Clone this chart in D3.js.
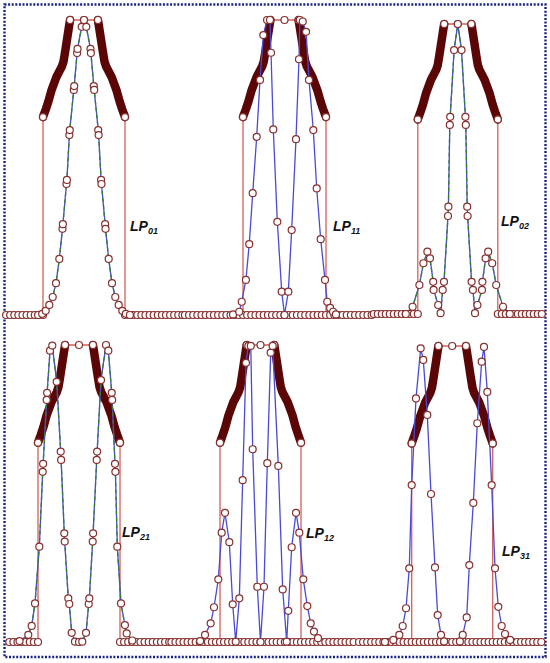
<!DOCTYPE html>
<html><head><meta charset="utf-8">
<script src="https://cdn.jsdelivr.net/npm/d3@7"></script>
<style>html,body{margin:0;padding:0;background:#fff;} svg{display:block;}</style>
</head><body>
<svg id="c" width="550" height="663"></svg>
<script>
// ---------------- data ----------------
const modeNames = ["LP01","LP11","LP02","LP21","LP12","LP31"];
const modeSubs  = ["01","11","02","21","12","31"];

// refractive-index profile of the core (normalized radius r, normalized index n)
const coreR = [-1.0,-0.93,-0.87,-0.79,-0.67,-0.54,-0.50,-0.46,-0.41,-0.36,-0.34,0,0.34,0.36,0.41,0.46,0.50,0.54,0.67,0.79,0.87,0.93,1.0];
const coreN = [0.671,0.698,0.723,0.763,0.808,0.842,0.859,0.893,0.938,0.983,1.0,1.0,1.0,0.983,0.938,0.893,0.859,0.842,0.808,0.763,0.723,0.698,0.671];
const claddingN = 0;
const gradedFrom = 0.34;      // |r| where the densely sampled graded zone starts
const claddingStep = 0.1;     // sampling step of the cladding points

// normalized mode intensity profiles
const lp01R = [-1.12,-1.02,-0.934,-0.846,-0.763,-0.683,-0.602,-0.525,-0.515,-0.427,-0.417,-0.357,-0.347,-0.249,-0.239,-0.168,-0.158,-0.056,0,0.056,0.158,0.168,0.239,0.249,0.347,0.357,0.417,0.427,0.515,0.525,0.602,0.683,0.763,0.846,0.934,1.02,1.12];
const lp01I = [0,0.004,0.014,0.034,0.061,0.108,0.19,0.292,0.308,0.444,0.458,0.610,0.627,0.763,0.776,0.888,0.902,0.977,1.0,0.977,0.902,0.888,0.776,0.763,0.627,0.610,0.458,0.444,0.308,0.292,0.19,0.108,0.061,0.034,0.014,0.004,0];

const lp11R = [-1.24,-1.09,-1.03,-0.93,-0.85,-0.766,-0.67,-0.59,-0.51,-0.42,-0.35,-0.325,-0.27,-0.173,-0.067,0,0.092,0.173,0.277,0.349,0.37,0.44,0.52,0.59,0.694,0.776,0.872,0.976,1.03,1.10,1.17,1.24];
const lp11I = [0.002,0.011,0.045,0.119,0.240,0.413,0.604,0.797,0.949,1.0,1.0,0.889,0.629,0.316,0.079,0,0.079,0.288,0.596,0.867,1.0,0.995,0.96,0.797,0.627,0.429,0.257,0.119,0.045,0.024,0.011,0.002];

const lp02R = [-1.3,-1.13,-0.96,-0.86,-0.76,-0.695,-0.615,-0.605,-0.49,-0.43,-0.378,-0.345,-0.245,-0.235,-0.20,-0.19,-0.093,0,0.093,0.19,0.20,0.235,0.245,0.345,0.378,0.43,0.49,0.605,0.615,0.695,0.76,0.86,0.96,1.13,1.3];
const lp02I = [0,0.025,0.10,0.175,0.215,0.192,0.111,0.083,0.031,0.003,0.083,0.111,0.338,0.37,0.652,0.68,0.91,1.0,0.91,0.68,0.652,0.37,0.338,0.111,0.083,0.003,0.031,0.083,0.111,0.192,0.215,0.175,0.10,0.025,0];

const lp21R = [-1.45,-1.237,-1.154,-1.073,-0.968,-0.885,-0.875,-0.788,-0.778,-0.707,-0.651,-0.544,-0.446,-0.436,-0.359,-0.349,-0.261,-0.237,-0.178,-0.098,0,0.08,0.171,0.237,0.251,0.334,0.344,0.432,0.442,0.537,0.659,0.715,0.798,0.808,0.878,0.888,0.934,1.024,1.12,1.163,1.3];
const lp21I = [0.003,0.024,0.054,0.13,0.321,0.573,0.6,0.815,0.839,0.981,0.998,0.876,0.641,0.613,0.366,0.338,0.147,0.128,0.031,0.001,0,0.001,0.031,0.128,0.147,0.338,0.366,0.613,0.641,0.882,1.0,0.981,0.839,0.815,0.6,0.573,0.321,0.13,0.057,0.029,0.005];

const lp12R = [-1.49,-1.37,-1.23,-1.148,-1.042,-0.958,-0.877,-0.77,-0.686,-0.612,-0.523,-0.44,-0.358,-0.30,-0.24,-0.193,-0.079,0,0.086,0.168,0.252,0.30,0.44,0.548,0.647,0.686,0.77,0.877,0.958,1.057,1.156,1.24,1.32,1.42];
const lp12I = [0.003,0.024,0.063,0.117,0.211,0.368,0.435,0.336,0.127,0.001,0.147,0.545,0.94,0.997,0.997,0.649,0.186,0,0.186,0.602,0.974,0.997,0.593,0.177,0.001,0.105,0.319,0.435,0.368,0.211,0.121,0.063,0.035,0.013];

const lp31R = [-1.66,-1.454,-1.306,-1.222,-1.14,-1.06,-1.0,-0.894,-0.778,-0.714,-0.615,-0.523,-0.425,-0.358,-0.277,-0.2,0.19,0.26,0.358,0.422,0.521,0.62,0.728,0.785,0.867,0.975,1.057,1.138,1.222,1.304,1.43];
const lp31I = [0,0.007,0.024,0.054,0.114,0.249,0.53,0.823,0.992,0.953,0.767,0.5,0.252,0.091,0.024,0.002,0.002,0.024,0.083,0.26,0.47,0.739,0.947,0.997,0.845,0.53,0.249,0.119,0.054,0.027,0.007];

const modeR = [lp01R, lp11R, lp02R, lp21R, lp12R, lp31R];
const modeI = [lp01I, lp11I, lp02I, lp21I, lp12I, lp31I];
const overlayModes = ["LP01","LP02","LP21"];     // second (dashed) solution drawn on top
const zeroRowModes = ["LP11","LP12","LP31"];     // zero-valued samples across the core

// ---------------- layout (pixels) ----------------
const layout = [
  {cx:84,    hw:41,   top:20,  base:315, x0:6,   x1:184, lx:130, ly:231},
  {cx:284.5, hw:41.5, top:20,  base:315, x0:184, x1:372, lx:333, ly:231},
  {cx:457.8, hw:40,   top:24,  base:314, x0:372, x1:544, lx:501, ly:226},
  {cx:79,    hw:41,   top:345, base:642, x0:6,   x1:170, lx:122, ly:537},
  {cx:260.5, hw:40.5, top:345, base:642, x0:170, x1:356, lx:306, ly:538},
  {cx:452.2, hw:40.5, top:346, base:642, x0:356, x1:544, lx:502, ly:556}
];

const C = {
  red: "#d2625b", thick: "#5a0606", blue: "#4a4ad6", green: "#2f7f3c",
  mk: "#86302f", border: "#1a2480"
};
const MR = 3.5;

const svg = d3.select("#c");
svg.append("rect").attr("x",4.5).attr("y",4.5).attr("width",541).attr("height",652.5)
  .attr("fill","none").attr("stroke",C.border).attr("stroke-width",2.4).attr("stroke-dasharray","2,1.6");

modeNames.forEach((name, pi) => {
  const L = layout[pi];
  const x = d3.scaleLinear().domain([-1,1]).range([L.cx - L.hw, L.cx + L.hw]);
  const y = d3.scaleLinear().domain([0,1]).range([L.base, L.top]);
  const g = svg.append("g");
  const line = d3.line().x(d => x(d[0])).y(d => y(d[1]));
  const rMin = x.invert(L.x0), rMax = x.invert(L.x1);

  const core = coreR.map((r,i) => [r, coreN[i]]);
  // index profile (thin line)
  const idx = [[rMin, claddingN], [-1, claddingN]].concat(core).concat([[1, claddingN], [rMax, claddingN]]);
  g.append("path").attr("d", line(idx)).attr("fill","none").attr("stroke",C.red).attr("stroke-width",1.3);

  // graded zone drawn with dense markers -> thick dark line
  const segL = core.filter(d => d[0] <= -gradedFrom);
  const segR = core.filter(d => d[0] >= gradedFrom);
  [segL, segR].forEach(seg => {
    g.append("path").attr("d", line(seg))
      .attr("fill","none").attr("stroke",C.thick).attr("stroke-width",8.5)
      .attr("stroke-linecap","round").attr("stroke-linejoin","round");
  });

  // mode profile
  const pts = modeR[pi].map((r,i) => [r, modeI[pi][i]]);
  g.append("path").attr("d", line(pts)).attr("fill","none").attr("stroke",C.blue).attr("stroke-width",1.3);
  if (overlayModes.includes(name)) {
    g.append("path").attr("d", line(pts)).attr("fill","none").attr("stroke",C.green)
      .attr("stroke-width",1.3).attr("stroke-dasharray","4,3");
  }

  // cladding sample markers (baseline chain)
  const kMin = Math.ceil(rMin / claddingStep), kMax = Math.floor(rMax / claddingStep);
  const full = zeroRowModes.includes(name);
  const clad = d3.range(kMin, kMax + 1).map(k => k / 10)
    .filter(r => full || Math.abs(r) >= 1 - 1e-9);
  const circ = (sel) => sel.attr("r", MR).attr("fill","#fff").attr("stroke",C.mk).attr("stroke-width",1.2);
  g.selectAll(null).data(clad).join("circle")
    .attr("cx", r => x(r)).attr("cy", y(claddingN)).call(circ);

  // index markers at core edge / flat top
  const idxMarks = core.filter(d => Math.abs(d[0]) === 1 || Math.abs(d[0]) <= gradedFrom);
  g.selectAll(null).data(idxMarks).join("circle")
    .attr("cx", d => x(d[0])).attr("cy", d => y(d[1])).call(circ);

  // mode markers
  g.selectAll(null).data(pts).join("circle")
    .attr("cx", d => x(d[0])).attr("cy", d => y(d[1])).call(circ);

  // label
  const t = g.append("text").attr("x", L.lx).attr("y", L.ly)
    .attr("font-family","'Liberation Sans', Arial, sans-serif").attr("font-weight","bold")
    .attr("font-style","italic").attr("font-size",14).attr("fill","#111");
  t.append("tspan").text("LP");
  t.append("tspan").attr("font-size",9).attr("dy",3).text(modeSubs[pi]);
});
</script>
</body></html>
